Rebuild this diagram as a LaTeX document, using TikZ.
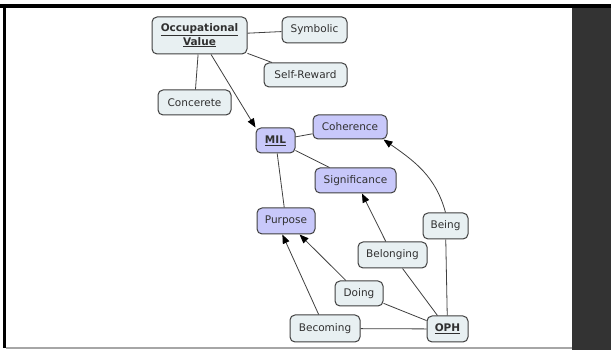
\documentclass[tikz,border=0pt]{standalone}
\usepackage{fontspec}
\setmainfont{DejaVu Sans}
\usetikzlibrary{arrows.meta}
\definecolor{lightfill}{HTML}{E8F0F2}
\definecolor{purplefill}{HTML}{C8C8FA}
\definecolor{edgecol}{HTML}{404040}
\definecolor{panel}{HTML}{333333}
\definecolor{txt}{HTML}{303030}
\begin{document}
\begin{tikzpicture}[x=1pt,y=1pt,
  concept/.style={draw=edgecol, line width=1pt, rounded corners=5pt, fill=lightfill,
    font=\fontsize{10.5}{13.3}\selectfont, text=txt, align=center,
    minimum height=25pt, inner xsep=4pt, inner ysep=2pt},
  milnode/.style={concept, fill=purplefill},
  link/.style={draw=edgecol, line width=0.8pt},
  arr/.style={link, -{Triangle[length=9pt,width=7pt,color=black]}}]
\useasboundingbox (0,0) rectangle (611,350);
\fill[white] (0,0) rectangle (611,350);
\fill[panel] (572,0) rectangle (611,342);
\fill[black] (0,342) rectangle (611,345.5);
\fill[black] (3,2) rectangle (6,342);
\fill[gray!70] (6,1) rectangle (572,3);

\node[concept, minimum width=95pt, minimum height=37pt] (ov) at (199.5,314.5)
  {\underline{\textbf{Occupational}}\\\underline{\textbf{Value}}};
\node[concept, minimum width=65pt, minimum height=26pt] (sym) at (314.5,320) {Symbolic};
\node[concept, minimum width=83pt, minimum height=24pt] (self) at (305.5,275) {Self-Reward};
\node[concept, minimum width=73pt] (conc) at (194.5,247.5) {Concerete};
\node[milnode, minimum width=39pt] (mil) at (275.5,209.5) {\underline{\textbf{MIL}}};
\node[milnode, minimum width=74pt, minimum height=24pt] (coh) at (350,223) {Coherence};
\node[milnode, minimum width=81pt] (sig) at (355.5,169.5) {Significance};
\node[milnode, minimum width=58pt, minimum height=26pt] (purp) at (286,129) {Purpose};
\node[concept, minimum width=45pt, minimum height=26pt] (being) at (445.5,124) {Being};
\node[concept, minimum width=69pt, minimum height=26pt] (belong) at (392.5,95) {Belonging};
\node[concept, minimum width=48pt] (doing) at (359,56.5) {Doing};
\node[concept, minimum width=70pt, minimum height=27pt] (becoming) at (325,21.5) {Becoming};
\node[concept, minimum width=41pt, minimum height=26pt] (oph) at (447.5,21) {\underline{\textbf{OPH}}};

\draw[link] (ov) -- (sym);
\draw[link] (ov) -- (self);
\draw[link] (ov) -- (conc);
\draw[arr] (ov) -- (mil.north west);
\draw[link] (mil) -- (coh);
\draw[link] (mil) -- (sig);
\draw[link] (mil) -- (purp);
\draw[arr] (being.north) to[out=105,in=-35] ([xshift=-4pt]coh.south east);
\draw[arr] (belong) -- (sig);
\draw[arr] (doing) -- (purp);
\draw[arr] (becoming) -- (purp.-105);
\draw[link] (oph) -- (becoming);
\draw[link] (oph) -- (doing);
\draw[link] (oph) -- (belong);
\draw[link] (oph) -- (being);
\end{tikzpicture}
\end{document}
